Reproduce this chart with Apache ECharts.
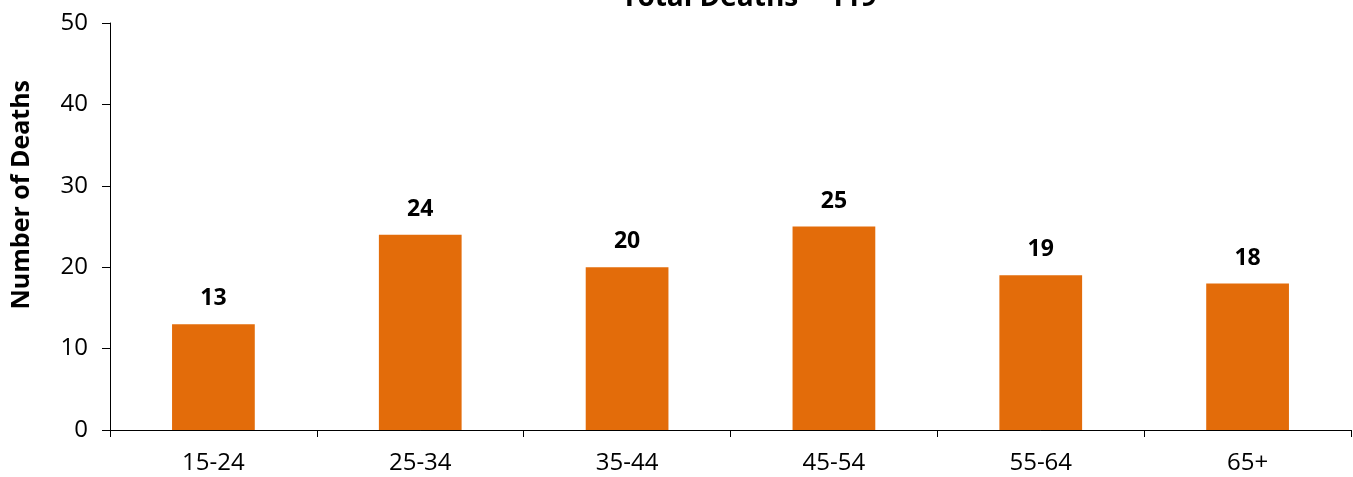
<!DOCTYPE html>
<html>
<head>
<meta charset="utf-8">
<script src="https://cdn.jsdelivr.net/npm/echarts@6/dist/echarts.min.js"></script>
<style>
  html, body { margin: 0; padding: 0; background: #fff; }
  #chart { width: 1353px; height: 477px; }
</style>
</head>
<body>
<div id="chart"></div>
<script>
// age groups and deaths
const ageGroups = ["15-24", "25-34", "35-44", "45-54", "55-64", "65+"];
const deaths = [13, 24, 20, 25, 19, 18];
const yTicks = { min: 0, max: 50, interval: 10 };

const font = "'Open Sans', 'Noto Sans', sans-serif";
let myChart = echarts.init(document.getElementById("chart"));

myChart.setOption({
  animation: false,
  textStyle: { fontFamily: font },
  title: {
    text: "Total Deaths = 119",
    left: 744,
    top: -21,
    textAlign: "center",
    textStyle: { fontSize: 28, fontWeight: "bold", color: "#000", fontFamily: font },
  },
  grid: {
    left: 110,
    right: 2,
    top: 23,
    bottom: 47,
  },
  xAxis: {
    type: "category",
    data: ageGroups,
    axisLine: { lineStyle: { color: "#000", width: 1 } },
    axisTick: { show: true, alignWithLabel: false, length: 7, lineStyle: { color: "#000" } },
    axisLabel: { color: "#000", fontSize: 24, margin: 21, fontFamily: font },
  },
  yAxis: {
    type: "value",
    min: yTicks.min,
    max: yTicks.max,
    interval: yTicks.interval,
    axisLine: { show: true, lineStyle: { color: "#000", width: 1 } },
    axisTick: { show: true, length: 8, lineStyle: { color: "#000" } },
    axisLabel: { color: "#000", fontSize: 24, margin: 22, fontFamily: font },
    splitLine: { show: false },
  },
  graphic: [
    {
      type: "text",
      left: 9,
      top: 80,
      rotation: Math.PI / 2,
      style: {
        text: "Number of Deaths",
        fontSize: 25,
        fontWeight: "bold",
        fill: "#000",
        fontFamily: font,
      },
    },
  ],
  series: [
    {
      type: "bar",
      data: deaths,
      barWidth: "40%",
      itemStyle: { color: "#E36C0A" },
      label: {
        show: true,
        position: "top",
        distance: 14,
        color: "#000",
        fontSize: 23,
        fontWeight: "bold",
        fontFamily: font,
      },
    },
  ],
});

window.addEventListener("resize", () => {
  myChart.resize();
});
</script>
</body>
</html>
